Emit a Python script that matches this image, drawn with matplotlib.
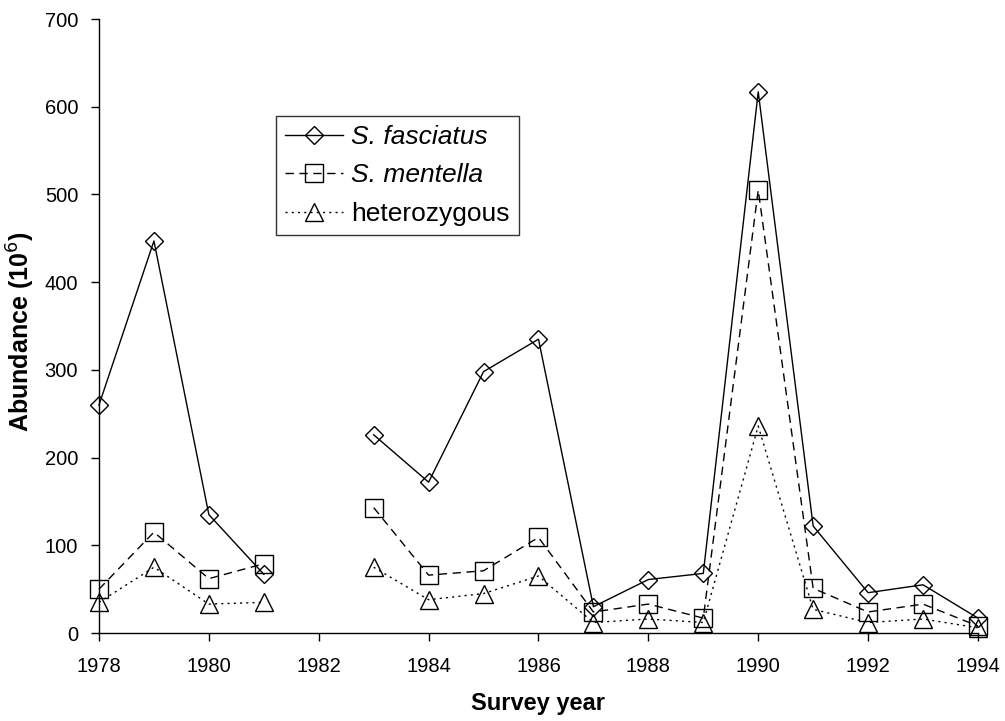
import numpy as np
import matplotlib.pyplot as plt

plt.rcParams['font.family'] = ['Liberation Sans', 'DejaVu Sans']

# survey data, abundance in millions (no survey in 1982)
years = np.arange(1978, 1995)
fasciatus = [260, 447, 135, 67, np.nan, 226, 172, 298, 335, 30, 61, 68, 617, 122, 46, 55, 17]
mentella = [50, 115, 62, 79, np.nan, 143, 66, 71, 109, 24, 33, 17, 505, 51, 24, 33, 8]
hetero = [35, 75, 33, 35, np.nan, 75, 38, 45, 65, 12, 16, 12, 236, 27, 12, 16, 6]

fig = plt.figure(figsize=(10.05, 7.21), dpi=100)
ax = fig.add_axes([0.0985, 0.122, 0.8746, 0.8516])

common = dict(color='black', lw=1, markerfacecolor='none',
              markeredgecolor='black', markeredgewidth=1, clip_on=False)
ax.plot(years, fasciatus, linestyle='-', marker='D', markersize=9,
        label='S. fasciatus', **common)
ax.plot(years, mentella, linestyle=(0, (6, 4)), marker='s', markersize=13,
        label='S. mentella', **common)
ax.plot(years, hetero, linestyle=(0, (1.5, 3)), marker='^', markersize=13,
        label='heterozygous', **common)

ax.set_xlim(1978, 1994)
ax.set_ylim(0, 700)
ax.set_xticks(np.arange(1978, 1995, 2))
ax.set_yticks(np.arange(0, 701, 100))
ax.tick_params(direction='out', length=6, width=1, labelsize=14.5)
ax.tick_params(axis='x', pad=11)
ax.tick_params(axis='y', pad=9)
for side in ['top', 'right']:
    ax.spines[side].set_visible(False)
for side in ['left', 'bottom']:
    ax.spines[side].set_linewidth(1)

ax.set_xlabel('Survey year', fontsize=17, fontweight='bold', labelpad=12)
ax.set_ylabel('Abundance (10$^{6}$)', fontsize=18, fontweight='bold')
ax.yaxis.set_label_coords(-0.0705, 0.49)

leg = ax.legend(loc='lower left', bbox_to_anchor=(0.2014, 0.648), borderaxespad=0,
                fontsize=19, frameon=True, fancybox=False, edgecolor='black',
                handlelength=2.2, handletextpad=0.3, labelspacing=0.55,
                borderpad=0.35)
leg.get_frame().set_linewidth(1)
for txt in leg.get_texts()[:2]:
    txt.set_fontstyle('italic')

fig.savefig('out.png', dpi=100)
